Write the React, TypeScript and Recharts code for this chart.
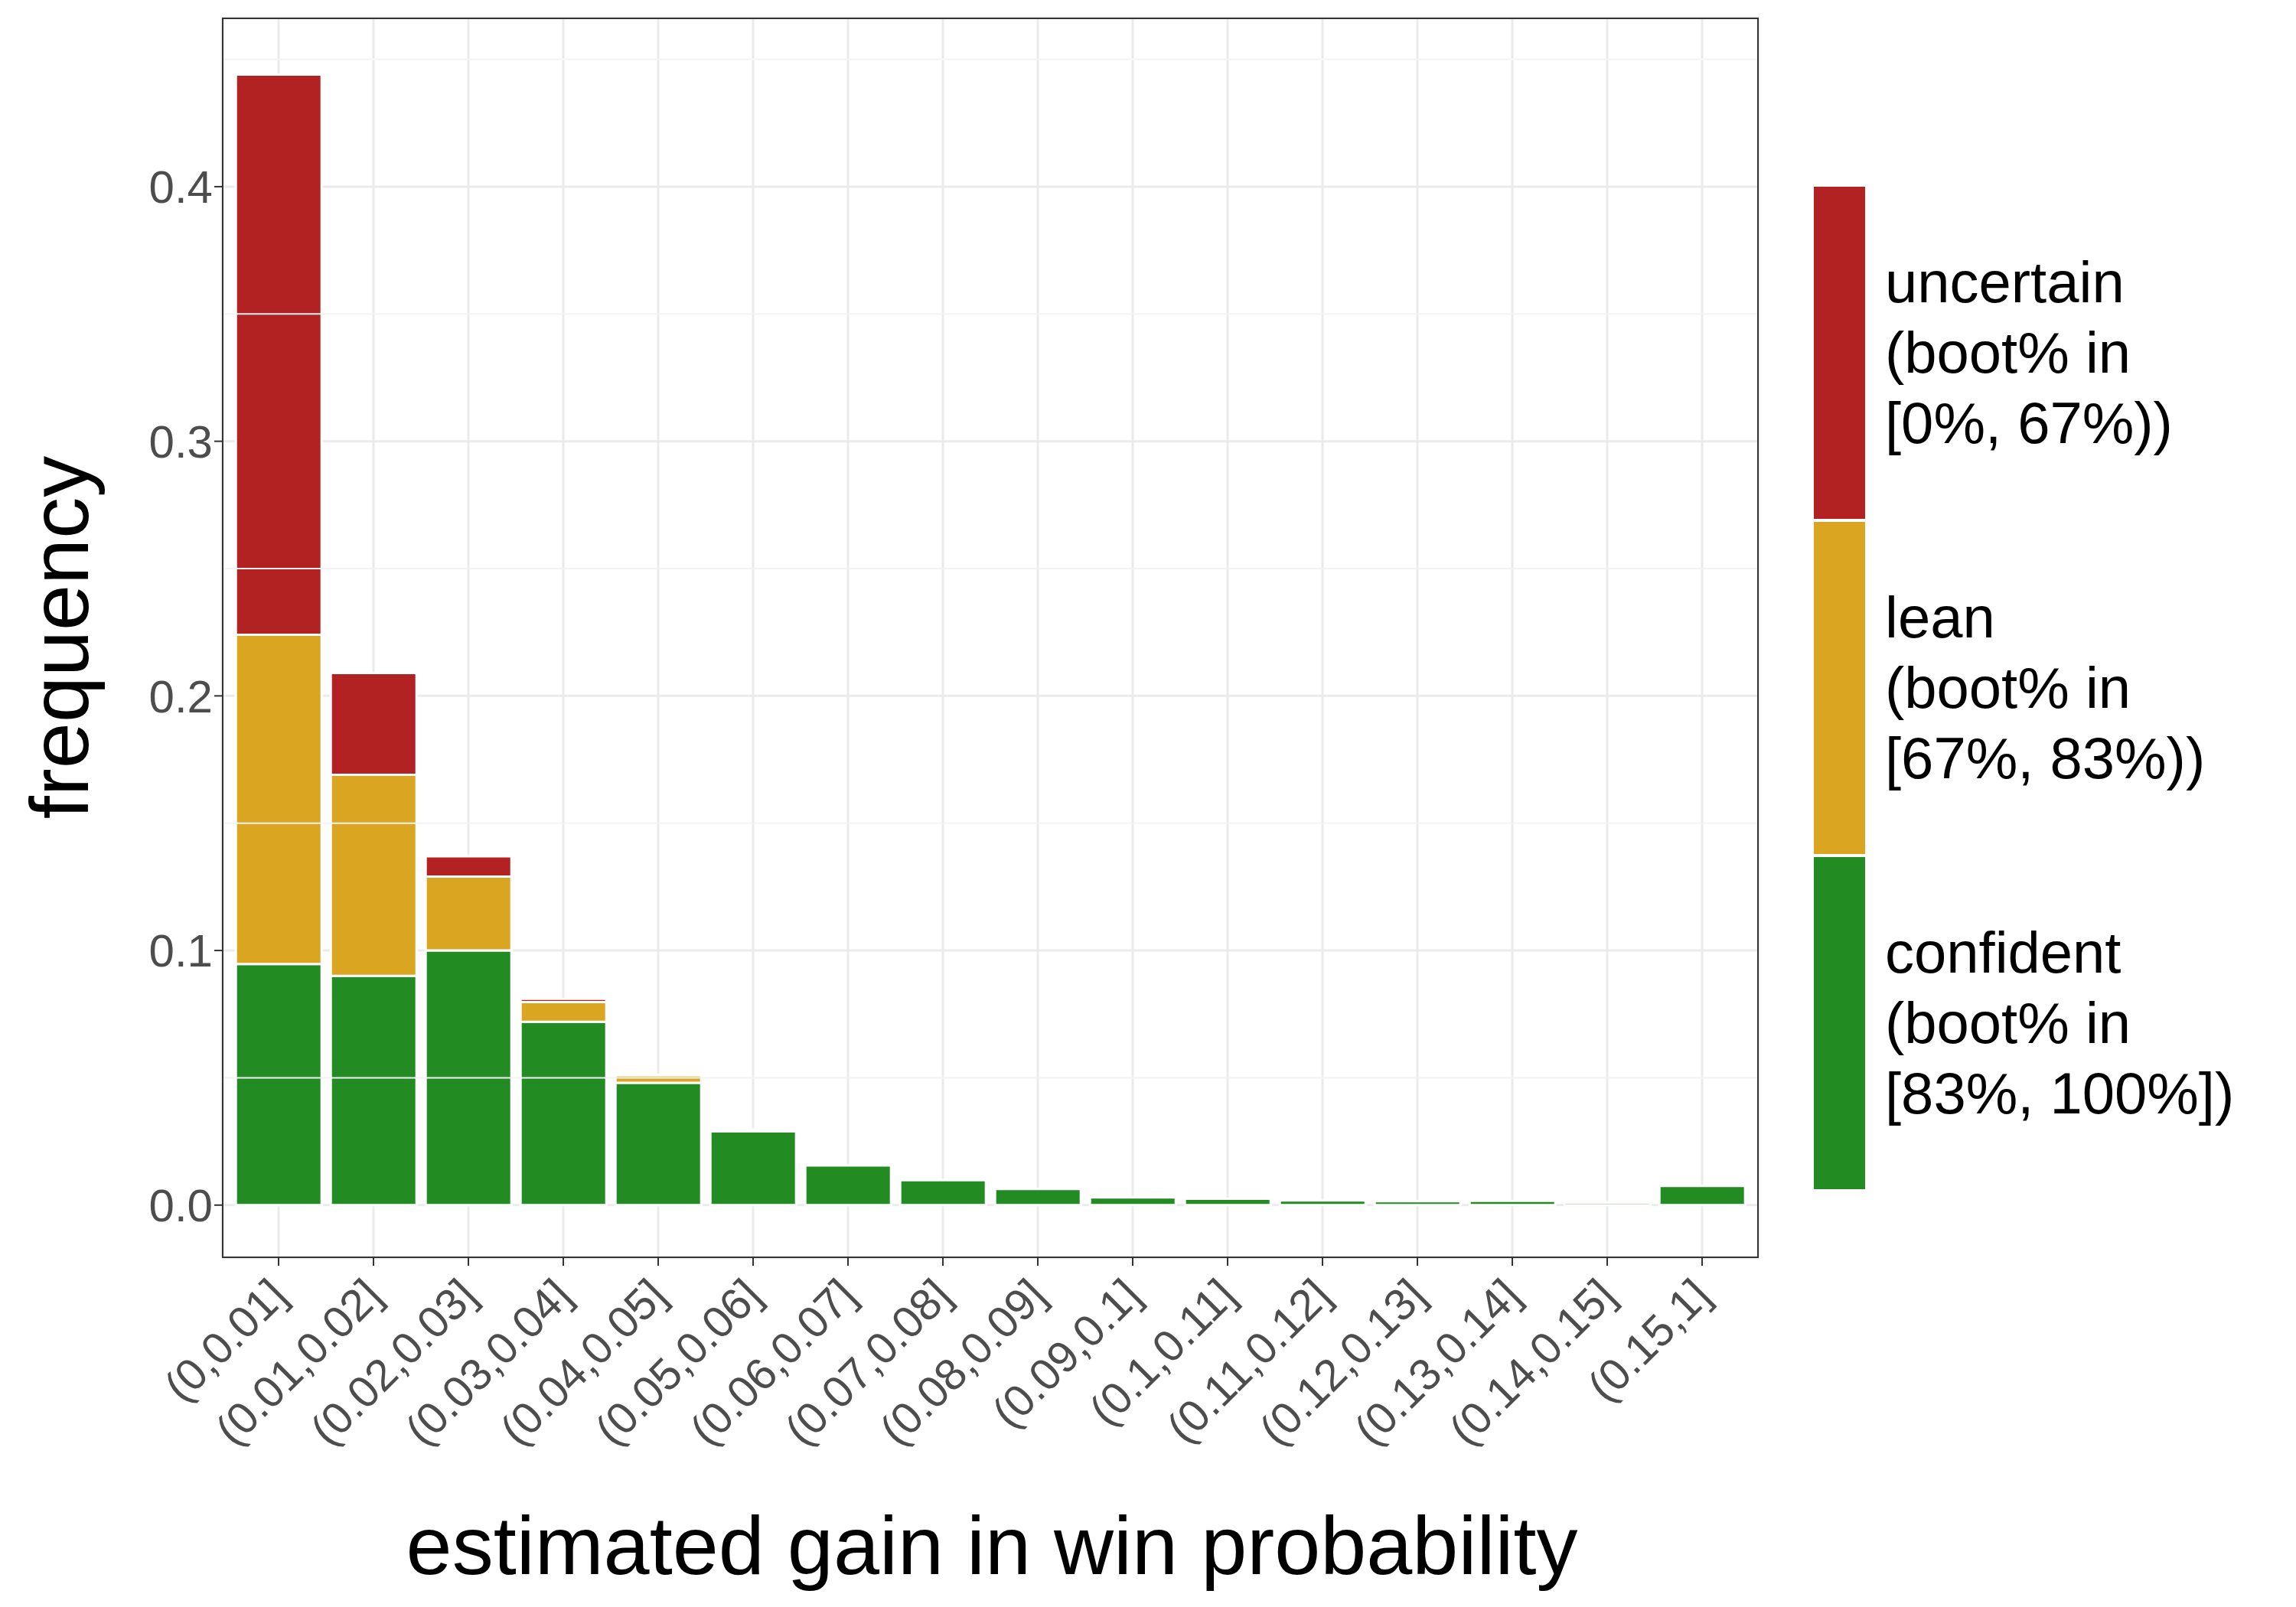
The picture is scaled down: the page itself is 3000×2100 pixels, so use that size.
import React from "react";
import { BarChart, Bar, XAxis, YAxis, CartesianGrid, ReferenceLine } from "recharts";

const categories = ["(0,0.01]","(0.01,0.02]","(0.02,0.03]","(0.03,0.04]","(0.04,0.05]","(0.05,0.06]","(0.06,0.07]","(0.07,0.08]","(0.08,0.09]","(0.09,0.1]","(0.1,0.11]","(0.11,0.12]","(0.12,0.13]","(0.13,0.14]","(0.14,0.15]","(0.15,1]"];
const confident = [0.0947,0.090,0.100,0.072,0.048,0.0290,0.0156,0.0098,0.0063,0.0030,0.0025,0.0018,0.0015,0.0017,0.0010,0.0075];
const lean = [0.1293,0.079,0.029,0.0077,0.003,0.0006,0,0,0,0,0,0,0,0,0,0];
const uncertain = [0.2200,0.040,0.008,0.0013,0.0002,0.0002,0,0,0,0,0,0,0,0,0,0];
const yTicks = [0, 0.1, 0.2, 0.3, 0.4];
const minorTicks = [0.05, 0.15, 0.25, 0.35, 0.45];

const data = categories.map((c, i) => ({ cat: c, confident: confident[i], lean: lean[i], uncertain: uncertain[i] }));

const FONT = "'Liberation Sans', Arial, Helvetica, sans-serif";

const XTick = (props: any) => {
  const { x, y, payload } = props;
  return (
    <text x={x + 14} y={y + 40} textAnchor="end" transform={`rotate(-45 ${x + 14} ${y + 40})`}
      fill="#4D4D4D" fontSize={58} fontFamily={FONT}>{payload.value}</text>
  );
};

const legendItems = [
  { color: "#B22222", lines: ["uncertain", "(boot% in", "[0%, 67%))"] },
  { color: "#DAA520", lines: ["lean", "(boot% in", "[67%, 83%))"] },
  { color: "#228B22", lines: ["confident", "(boot% in", "[83%, 100%])"] },
];

export default function App() {
  return (
    <div style={{ position: "absolute", left: 0, top: 0, width: 3000, height: 2100, background: "#fff", fontFamily: FONT }}>
      <BarChart width={3000} height={2100} data={data} barCategoryGap="5%"
        margin={{ left: 140, top: 23, right: 702, bottom: 176 }}>
        <CartesianGrid stroke="#EBEBEB" strokeWidth={3} />
        {minorTicks.map((t) => <ReferenceLine key={t} y={t} stroke="#F3F3F3" strokeWidth={2} />)}
        <XAxis dataKey="cat" height={280} interval={0} tick={<XTick />} tickLine={{ stroke: "#333", strokeWidth: 2 }}
          tickSize={10} axisLine={false} padding={{ left: 12, right: 12 }} />
        <YAxis width={150} domain={[-0.0208, 0.4664]} ticks={yTicks} type="number" allowDataOverflow
          tickFormatter={(v: number) => v.toFixed(1)} tick={{ fill: "#4D4D4D", fontSize: 60, fontFamily: FONT }}
          tickLine={{ stroke: "#333", strokeWidth: 2 }} tickSize={10} axisLine={false} />
        <Bar dataKey="confident" stackId="a" fill="#228B22" stroke="#fff" strokeWidth={3} isAnimationActive={false} />
        <Bar dataKey="lean" stackId="a" fill="#DAA520" stroke="#fff" strokeWidth={3} isAnimationActive={false} />
        <Bar dataKey="uncertain" stackId="a" fill="#B22222" stroke="#fff" strokeWidth={3} isAnimationActive={false} />
      </BarChart>
      <div style={{ position: "absolute", left: 290, top: 23, width: 2008, height: 1621, border: "2px solid #333", boxSizing: "border-box", pointerEvents: "none" }} />
      <div style={{ position: "absolute", left: 0, width: 3000, top: 1960, textAlign: "center", fontSize: 108, lineHeight: "120px", paddingLeft: 0 }}>
        <span style={{ position: "absolute", left: 1296, transform: "translateX(-50%)", whiteSpace: "nowrap" }}>estimated gain in win probability</span>
      </div>
      <div style={{ position: "absolute", left: 77, top: 833, transform: "translate(-50%,-50%) rotate(-90deg)", fontSize: 108, whiteSpace: "nowrap" }}>frequency</div>
      {legendItems.map((it, i) => (
        <div key={i} style={{ position: "absolute", left: 2370, top: 244 + i * 438, width: 3000 - 2370, height: 434 }}>
          <div style={{ position: "absolute", left: 0, top: 0, width: 67, height: 434, background: it.color }} />
          <div style={{ position: "absolute", left: 93, top: 217, transform: "translateY(-50%)", fontSize: 76, lineHeight: "92px", whiteSpace: "nowrap" }}>
            {it.lines.map((l, j) => <div key={j}>{l}</div>)}
          </div>
        </div>
      ))}
    </div>
  );
}
